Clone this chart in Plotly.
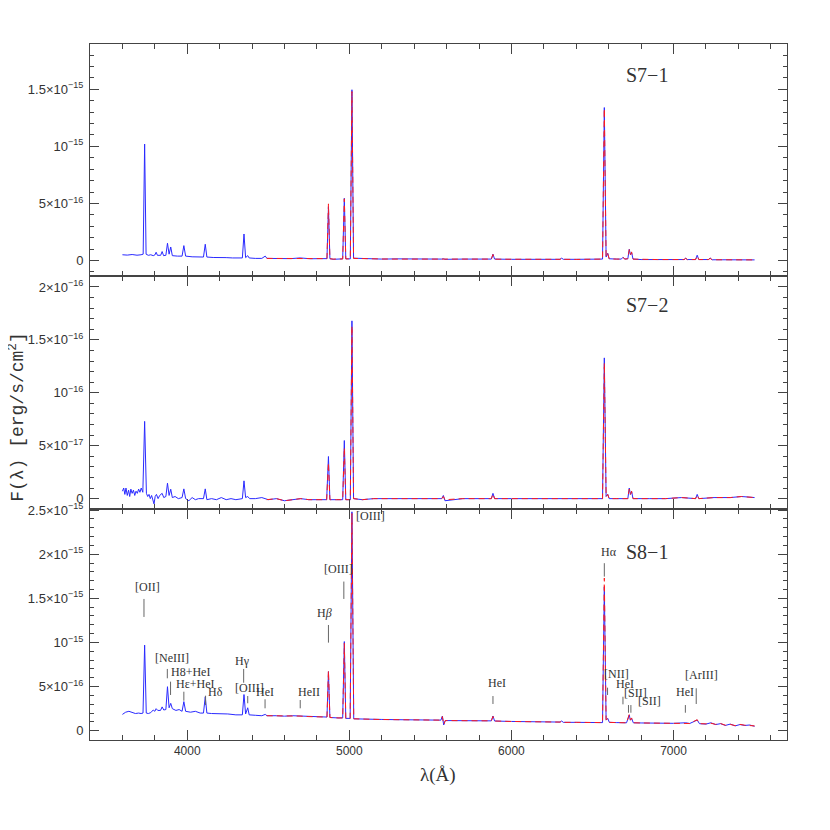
import plotly.graph_objects as go
from plotly.subplots import make_subplots

# ---------------- data (wavelength in Angstrom) ----------------
# Panel S7-1 : flux in units of 1e-16 erg/s/cm2
s71_blue_wl = [3600, 3630, 3660, 3690, 3715, 3728, 3737, 3746, 3760, 3775, 3790, 3800, 3808, 3816, 3836, 3845, 3854,
               3868, 3878, 3888, 3898, 3908, 3940, 3968, 3979, 3990, 4030, 4070, 4100, 4111, 4121, 4160, 4200, 4240,
               4280, 4320, 4340, 4350, 4360, 4373, 4382, 4420, 4460, 4481, 4492, 4560, 4640, 4696, 4760, 4820, 4862,
               4871, 4880, 4900, 4930, 4959, 4969, 4978, 5006, 5016, 5026, 5100, 5200, 5300, 5400, 5500, 5570, 5580,
               5590, 5700, 5800, 5876, 5886, 5896, 6000, 6100, 6200, 6300, 6310, 6320, 6400, 6500, 6562, 6573, 6584,
               6594, 6603, 6650, 6678, 6688, 6700, 6718, 6727, 6734, 6741, 6750, 6800, 6900, 7000, 7065, 7075, 7085,
               7136, 7146, 7156, 7215, 7226, 7238, 7300, 7400, 7500]
s71_blue_fx = [0.50, 0.47, 0.52, 0.46, 0.50, 0.55, 10.2, 0.55, 0.45, 0.50, 0.42, 0.48, 0.72, 0.45, 0.45, 0.78, 0.42,
               0.45, 1.51, 0.55, 1.18, 0.42, 0.38, 0.38, 1.30, 0.38, 0.32, 0.30, 0.30, 1.42, 0.30, 0.26, 0.28, 0.25,
               0.22, 0.22, 0.22, 2.32, 0.25, 0.42, 0.22, 0.18, 0.18, 0.38, 0.18, 0.17, 0.16, 0.22, 0.15, 0.16, 0.16,
               4.72, 0.16, 0.10, 0.14, 0.14, 5.45, 0.14, 0.14, 14.96, 0.20, 0.15, 0.12, 0.14, 0.12, 0.12, 0.12, 0.15,
               0.10, 0.12, 0.12, 0.12, 0.55, 0.12, 0.10, 0.10, 0.12, 0.10, 0.20, 0.10, 0.10, 0.10, 0.12, 13.4, 0.30,
               0.63, 0.15, 0.12, 0.12, 0.28, 0.12, 0.15, 0.98, 0.50, 0.72, 0.12, 0.08, 0.08, 0.08, 0.08, 0.20, 0.08,
               0.08, 0.46, 0.08, 0.08, 0.22, 0.06, 0.06, 0.05, 0.05]
s71_red_wl = [4490, 4560, 4640, 4696, 4760, 4820, 4862, 4871, 4880, 4900, 4930, 4959, 4969, 4978, 5006, 5016, 5026,
              5100, 5200, 5300, 5400, 5500, 5570, 5580, 5590, 5700, 5800, 5876, 5886, 5896, 6000, 6100, 6200, 6300,
              6310, 6320, 6400, 6500, 6562, 6573, 6584, 6594, 6603, 6650, 6678, 6688, 6700, 6718, 6727, 6734, 6741,
              6750, 6800, 6900, 7000, 7065, 7075, 7085, 7136, 7146, 7156, 7215, 7226, 7238, 7300, 7400, 7500]
s71_red_fx = [0.18, 0.17, 0.15, 0.20, 0.15, 0.15, 0.16, 4.96, 0.15, 0.12, 0.14, 0.13, 5.40, 0.14, 0.14, 14.8, 0.18,
              0.14, 0.13, 0.12, 0.13, 0.11, 0.12, 0.16, 0.10, 0.11, 0.12, 0.12, 0.52, 0.11, 0.10, 0.11, 0.11, 0.10,
              0.22, 0.10, 0.09, 0.10, 0.12, 13.3, 0.32, 0.60, 0.14, 0.12, 0.12, 0.26, 0.12, 0.15, 0.95, 0.50, 0.75,
              0.12, 0.09, 0.08, 0.08, 0.08, 0.18, 0.08, 0.08, 0.40, 0.08, 0.08, 0.18, 0.06, 0.06, 0.05, 0.05]

# Panel S7-2 : flux in units of 1e-17 erg/s/cm2
s72_blue_wl = [3600, 3608, 3615, 3622, 3630, 3638, 3645, 3652, 3660, 3668, 3676, 3684, 3692, 3700, 3708, 3716, 3726,
               3737, 3748, 3756, 3764, 3772, 3780, 3788, 3795, 3802, 3810, 3820, 3830, 3845, 3855, 3868, 3878, 3888,
               3898, 3908, 3925, 3945, 3968, 3979, 3990, 4010, 4030, 4050, 4070, 4100, 4111, 4121, 4150, 4180, 4210,
               4240, 4270, 4300, 4340, 4350, 4360, 4373, 4385, 4420, 4460, 4500, 4550, 4600, 4650, 4700, 4750, 4800,
               4860, 4871, 4880, 4920, 4959, 4969, 4978, 5006, 5016, 5026, 5080, 5150, 5250, 5350, 5450, 5570, 5580,
               5590, 5700, 5800, 5876, 5886, 5896, 6000, 6100, 6200, 6300, 6400, 6500, 6562, 6573, 6584, 6594, 6603,
               6650, 6718, 6727, 6734, 6741, 6750, 6850, 6950, 7050, 7136, 7146, 7156, 7250, 7350, 7420, 7500]
s72_blue_fx = [0.7, 1.0, 0.4, 1.0, 0.3, 0.8, 0.2, 0.9, 0.5, 0.8, 0.3, 0.7, 0.5, 0.9, 0.6, 1.0, 0.6,
               7.3, 0.5, 0.2, 0.4, 0.0, 0.3, -0.2, -0.5, 0.2, 0.4, 0.0, 0.3, 0.5, 0.1, 0.2, 1.46, 0.3,
               0.89, 0.1, 0.2, 0.0, 0.1, 0.92, 0.0, -0.2, 0.1, -0.1, 0.0, 0.0, 0.92, -0.1, 0.0, -0.1, 0.1,
               -0.1, 0.0, -0.1, 0.0, 1.68, 0.1, 0.2, 0.0, 0.0, 0.1, -0.1, 0.0, -0.2, -0.1, 0.0, -0.1, -0.1,
               -0.1, 3.98, -0.1, -0.1, -0.1, 5.49, -0.1, -0.1, 16.8, 0.0, -0.1, 0.0, 0.0, 0.0, 0.0, 0.0, 0.3,
               -0.2, 0.0, 0.0, 0.0, 0.5, 0.0, 0.0, 0.0, 0.0, 0.0, 0.0, 0.0, 0.0, 13.3, 0.2, 0.4, 0.0,
               0.0, 0.0, 1.0, 0.4, 0.7, 0.0, 0.0, 0.0, 0.1, 0.0, 0.4, 0.0, 0.1, 0.1, 0.2, 0.1]
s72_red_wl = [4490, 4550, 4600, 4650, 4700, 4750, 4800, 4860, 4871, 4880, 4920, 4959, 4969, 4978, 5006, 5016, 5026,
              5080, 5150, 5250, 5350, 5450, 5570, 5580, 5590, 5700, 5800, 5876, 5886, 5896, 6000, 6100, 6200, 6300,
              6400, 6500, 6562, 6573, 6584, 6594, 6603, 6650, 6718, 6727, 6734, 6741, 6750, 6850, 6950, 7050, 7136,
              7146, 7156, 7250, 7350, 7420, 7500]
s72_red_fx = [-0.1, 0.0, -0.2, -0.1, 0.0, -0.1, -0.1, -0.1, 3.4, -0.1, -0.1, -0.1, 4.8, -0.1, -0.1, 16.3, 0.0,
              -0.1, 0.0, 0.0, 0.0, 0.0, 0.0, 0.2, -0.1, 0.0, 0.0, 0.0, 0.45, 0.0, 0.0, 0.0, 0.0, 0.0,
              0.0, 0.0, 0.0, 12.8, 0.2, 0.4, 0.0, 0.0, 0.0, 0.9, 0.4, 0.7, 0.0, 0.0, 0.0, 0.1, 0.0,
              0.35, 0.0, 0.1, 0.1, 0.2, 0.1]

# Panel S8-1 : flux in units of 1e-16 erg/s/cm2
s81_blue_wl = [3600, 3620, 3640, 3660, 3680, 3700, 3715, 3727, 3737, 3747, 3760, 3775, 3790, 3800, 3808, 3818, 3835,
               3845, 3855, 3868, 3878, 3888, 3898, 3908, 3930, 3950, 3968, 3979, 3990, 4020, 4050, 4080, 4100, 4111,
               4121, 4150, 4200, 4250, 4300, 4340, 4350, 4360, 4373, 4382, 4420, 4460, 4481, 4492, 4550, 4600, 4650,
               4696, 4750, 4800, 4862, 4871, 4880, 4930, 4959, 4969, 4978, 5005, 5016, 5027, 5100, 5200, 5300, 5400,
               5500, 5565, 5574, 5582, 5592, 5700, 5800, 5876, 5886, 5896, 6000, 6100, 6200, 6300, 6310, 6320, 6400,
               6500, 6562, 6573, 6584, 6594, 6604, 6650, 6688, 6710, 6727, 6734, 6741, 6752, 6800, 6900, 7000, 7075,
               7100, 7146, 7160, 7200, 7230, 7260, 7290, 7320, 7350, 7380, 7410, 7440, 7470, 7500]
s81_blue_fx = [1.85, 2.10, 2.20, 2.10, 1.95, 2.00, 1.95, 2.00, 9.70, 2.00, 1.95, 2.05, 2.35, 2.20, 2.50, 2.30, 2.30,
               2.70, 2.35, 2.40, 4.99, 2.60, 3.10, 2.50, 2.30, 2.40, 2.20, 3.30, 2.20, 2.10, 2.20, 2.00, 2.00, 3.85,
               2.00, 1.95, 1.95, 1.90, 1.80, 1.80, 4.10, 1.90, 2.60, 1.80, 1.75, 1.70, 1.85, 1.70, 1.70, 1.65, 1.70,
               1.68, 1.62, 1.60, 1.55, 6.70, 1.50, 1.45, 1.45, 10.1, 1.40, 1.40, 24.8, 1.35, 1.29, 1.28, 1.25, 1.22,
               1.20, 1.20, 1.66, 0.65, 1.15, 1.15, 1.12, 1.12, 1.67, 1.10, 1.05, 1.00, 1.00, 0.98, 1.10, 0.95, 0.95,
               0.92, 0.92, 16.3, 1.20, 1.40, 0.95, 0.92, 0.95, 0.90, 1.78, 1.20, 1.40, 0.90, 0.88, 0.85, 0.84, 0.90,
               0.82, 1.21, 0.80, 0.75, 0.90, 0.70, 0.80, 0.60, 0.75, 0.55, 0.70, 0.60, 0.65, 0.50]
s81_red_wl = [4490, 4550, 4600, 4650, 4696, 4750, 4800, 4862, 4871, 4880, 4930, 4959, 4969, 4978, 5005, 5016, 5027,
              5100, 5200, 5300, 5400, 5500, 5565, 5574, 5582, 5592, 5700, 5800, 5876, 5886, 5896, 6000, 6100, 6200,
              6300, 6310, 6320, 6400, 6500, 6562, 6573, 6584, 6594, 6604, 6650, 6688, 6710, 6727, 6734, 6741, 6752,
              6800, 6900, 7000, 7075, 7100, 7146, 7160, 7200, 7230, 7260, 7290, 7320, 7350, 7380, 7410, 7440, 7470,
              7500]
s81_red_fx = [1.70, 1.70, 1.66, 1.68, 1.66, 1.60, 1.58, 1.55, 6.80, 1.50, 1.45, 1.45, 9.90, 1.40, 1.40, 24.6, 1.35,
              1.30, 1.27, 1.25, 1.23, 1.20, 1.20, 1.60, 0.70, 1.15, 1.14, 1.12, 1.12, 1.62, 1.10, 1.05, 1.02, 1.00,
              0.98, 1.08, 0.95, 0.95, 0.92, 0.92, 17.3, 1.25, 1.35, 0.95, 0.92, 0.95, 0.90, 1.85, 1.20, 1.45, 0.90,
              0.88, 0.86, 0.84, 0.90, 0.82, 1.25, 0.80, 0.78, 0.85, 0.72, 0.82, 0.62, 0.72, 0.58, 0.72, 0.62, 0.62,
              0.55]

panel_names = ["S7\u22121", "S7\u22122", "S8\u22121"]
panel_units = [1e-16, 1e-17, 1e-16]

# y tick values / labels per panel
top_tickvals = [0, 5e-16, 1e-15, 1.5e-15]
top_ticktext = ["0", "5\u00d710<sup>\u221216</sup>", "10<sup>\u221215</sup>", "1.5\u00d710<sup>\u221215</sup>"]
mid_tickvals = [0, 5e-17, 1e-16, 1.5e-16, 2e-16]
mid_ticktext = ["0", "5\u00d710<sup>\u221217</sup>", "10<sup>\u221216</sup>", "1.5\u00d710<sup>\u221216</sup>",
                "2\u00d710<sup>\u221216</sup>"]
bot_tickvals = [0, 5e-16, 1e-15, 1.5e-15, 2e-15, 2.5e-15]
bot_ticktext = ["0", "5\u00d710<sup>\u221216</sup>", "10<sup>\u221215</sup>", "1.5\u00d710<sup>\u221215</sup>",
                "2\u00d710<sup>\u221215</sup>", "2.5\u00d710<sup>\u221215</sup>"]
x_tickvals = [4000, 5000, 6000, 7000]

# line identifications in S8-1 (label, label wavelength, label height [1e-16], bar wavelength, bar y0, bar y1)
line_labels = ["[OII]", "[NeIII]", "H8+HeI", "H\u03b5+HeI", "H\u03b4", "H\u03b3", "[OIII]", "HeI", "HeII",
               "H<i>\u03b2</i>", "[OIII]", "[OIII]", "HeI", "H\u03b1", "[NII]", "HeI", "[SII]", "[SII]", "HeI",
               "[ArIII]"]
label_wl = [3756, 3908, 4020, 4045, 4174, 4338, 4385, 4477, 4748,
            4844, 4932, 5132, 5908, 6603, 6648, 6700, 6768, 6850, 7071, 7173]
label_fx = [16.33, 8.28, 6.69, 5.29, 4.35, 7.94, 4.81, 4.35, 4.35,
            13.31, 18.33, 24.38, 5.40, 20.23, 6.39, 5.29, 4.31, 3.37, 4.35, 6.32]
bar_wl = [3733, 3877, 3897, 3979, 4113, 4348, 4373, 4480, 4697, 4871, 4966, 5886, 6573, 6593, 6688, 6722, 6737, 7073,
          7140]
bar_y0 = [12.89, 5.94, 4.05, 3.40, 2.91, 5.44, 3.11, 2.54, 2.54, 9.98, 14.93, 3.03, 17.46, 4.05, 2.99, 2.04, 2.04,
          2.04, 3.03]
bar_y1 = [14.93, 7.00, 5.56, 4.42, 3.97, 7.00, 3.93, 3.56, 3.48, 11.98, 16.90, 3.93, 18.98, 4.88, 3.85, 2.91, 2.91,
          2.91, 4.81]

# ---------------- figure ----------------
fig = make_subplots(rows=3, cols=1, shared_xaxes=True, vertical_spacing=0)

series = [
    (s71_blue_wl, s71_blue_fx, s71_red_wl, s71_red_fx),
    (s72_blue_wl, s72_blue_fx, s72_red_wl, s72_red_fx),
    (s81_blue_wl, s81_blue_fx, s81_red_wl, s81_red_fx),
]
for i, (bw, bf, rw, rf) in enumerate(series):
    u = panel_units[i]
    fig.add_trace(go.Scatter(x=bw, y=[v * u for v in bf], mode="lines",
                             line=dict(color="#2a2aff", width=1), showlegend=False), row=i + 1, col=1)
    fig.add_trace(go.Scatter(x=rw, y=[v * u for v in rf], mode="lines",
                             line=dict(color="#ff1a1a", width=1, dash="6px,4px"), showlegend=False),
                  row=i + 1, col=1)

axis_col = "#444444"
xtick_font = dict(family="Liberation Sans, Arial, sans-serif", size=12, color="#333333")
ytick_font = dict(family="Liberation Sans, Arial, sans-serif", size=13, color="#333333")

for i in range(3):
    fig.update_xaxes(row=i + 1, col=1, range=[3400, 7700], tickmode="array", tickvals=x_tickvals,
                     ticks="inside", ticklen=10, tickcolor=axis_col, tickwidth=1,
                     showline=True, linecolor=axis_col, linewidth=1, mirror="ticks",
                     showgrid=False, zeroline=False, tickfont=xtick_font,
                     minor=dict(tickmode="linear", tick0=0, dtick=200, ticklen=5, ticks="inside",
                                tickcolor=axis_col, showgrid=False),
                     showticklabels=(i == 2))

y_specs = [
    ([-1.36e-16, 1.897e-15], top_tickvals, top_ticktext, 1e-16, [0.6667, 1.0]),
    ([-0.98e-17, 2.104e-16], mid_tickvals, mid_ticktext, 1e-17, [0.3319, 0.6667]),
    ([-1.05e-16, 2.512e-15], bot_tickvals, bot_ticktext, 1e-16, [0.0, 0.3319]),
]
for i, (rng, tv, tt, mdt, dom) in enumerate(y_specs):
    fig.update_yaxes(row=i + 1, col=1, range=rng, domain=dom, tickmode="array", tickvals=tv, ticktext=tt,
                     ticks="inside", ticklen=9, tickcolor=axis_col, tickwidth=1,
                     showline=True, linecolor=axis_col, linewidth=1, mirror="ticks",
                     showgrid=False, zeroline=False, tickfont=ytick_font, ticklabelstandoff=3,
                     minor=dict(tickmode="linear", tick0=0, dtick=mdt, ticklen=4, ticks="inside",
                                tickcolor=axis_col, showgrid=False))

annotations = []
# panel names
name_y = [0.955, 0.625, 0.27]
for i in range(3):
    annotations.append(dict(text=panel_names[i], xref="paper", yref="paper", x=0.799, y=name_y[i],
                            showarrow=False, xanchor="center", yanchor="middle",
                            font=dict(family="Liberation Serif, serif", size=20, color="#333333")))
# line labels
for t, lw, lf in zip(line_labels, label_wl, label_fx):
    annotations.append(dict(text=t, x=lw, y=lf * 1e-16, xref="x3", yref="y3", showarrow=False,
                            xanchor="center", yanchor="middle",
                            font=dict(family="Liberation Serif, serif", size=12, color="#333333")))
# axis titles
annotations.append(dict(text="\u03bb(\u00c5)", xref="paper", yref="paper", x=0.499, y=-0.05,
                        showarrow=False, xanchor="center", yanchor="middle",
                        font=dict(family="Liberation Serif, serif", size=19, color="#333333")))
annotations.append(dict(text="F(\u03bb) [erg/s/cm<sup>2</sup>]", xref="paper", yref="paper", x=-0.105, y=0.464,
                        showarrow=False, textangle=-90, xanchor="center", yanchor="middle",
                        font=dict(family="Liberation Mono, monospace", size=18, color="#333333")))

shapes = []
for bw, y0, y1 in zip(bar_wl, bar_y0, bar_y1):
    shapes.append(dict(type="line", xref="x3", yref="y3", x0=bw, x1=bw, y0=y0 * 1e-16, y1=y1 * 1e-16,
                       line=dict(color="#666666", width=1)))

# the page places the figure 8 px from the top-left corner, margins compensate for it
fig.update_layout(width=822, height=822, margin=dict(l=82, r=43, t=36, b=90),
                  paper_bgcolor="white", plot_bgcolor="white",
                  annotations=annotations, shapes=shapes, showlegend=False)

fig.write_html("out.html")
